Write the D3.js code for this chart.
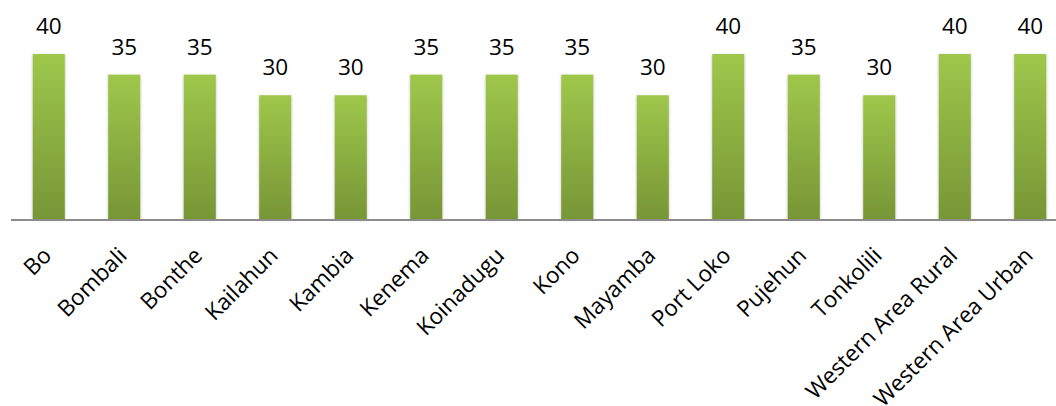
<!DOCTYPE html>
<html>
<head>
<meta charset="utf-8">
<script src="https://cdn.jsdelivr.net/npm/d3@7"></script>
<style>
  body { margin: 0; background: #fff; }
  text { font-family: "Open Sans", sans-serif; fill: #000; }
</style>
</head>
<body>
<div class="bar-chart"></div>
<script>
var districts = ["Bo", "Bombali", "Bonthe", "Kailahun", "Kambia", "Kenema", "Koinadugu",
                 "Kono", "Mayamba", "Port Loko", "Pujehun", "Tonkolili",
                 "Western Area Rural", "Western Area Urban"];
var values = [40, 35, 35, 30, 30, 35, 35, 35, 30, 40, 35, 30, 40, 40];

var w = 1056;
var h = 406;
var baseY = 219;

var svg = d3.select(".bar-chart")
            .append("svg")
            .attr("width", w)
            .attr("height", h);

var x = d3.scaleBand()
          .domain(districts)
          .range([11, 1068])
          .paddingInner(0.575)
          .paddingOuter(0.2875);

var y = d3.scaleLinear()
          .domain([0, 40])
          .range([baseY, 54]);

// green gradient like the original
var defs = svg.append("defs");
var grad = defs.append("linearGradient")
               .attr("id", "barGrad")
               .attr("x1", 0).attr("y1", 0)
               .attr("x2", 0).attr("y2", 1);
grad.append("stop").attr("offset", "0%").attr("stop-color", "#9fc74b");
grad.append("stop").attr("offset", "100%").attr("stop-color", "#779636");

var shadow = defs.append("filter")
                 .attr("id", "shadow")
                 .attr("x", "-30%").attr("y", "-10%")
                 .attr("width", "160%").attr("height", "120%");
shadow.append("feDropShadow")
      .attr("dx", 0).attr("dy", 1)
      .attr("stdDeviation", 1.5)
      .attr("flood-color", "#000")
      .attr("flood-opacity", 0.25);

// bars
svg.selectAll("rect.bar")
   .data(values)
   .enter()
   .append("rect")
   .attr("class", "bar")
   .attr("x", function(d, i) { return x(districts[i]); })
   .attr("y", function(d) { return y(d); })
   .attr("width", x.bandwidth())
   .attr("height", function(d) { return baseY - y(d); })
   .attr("fill", "url(#barGrad)")
   .attr("filter", "url(#shadow)");

// axis line
svg.append("line")
   .attr("x1", 11).attr("x2", w)
   .attr("y1", baseY + 1).attr("y2", baseY + 1)
   .attr("stroke", "#8c8c8c")
   .attr("stroke-width", 2);

// value labels
svg.selectAll("text.value")
   .data(values)
   .enter()
   .append("text")
   .attr("class", "value")
   .attr("x", function(d, i) { return x(districts[i]) + x.bandwidth() / 2; })
   .attr("y", function(d) { return y(d) - 20; })
   .attr("text-anchor", "middle")
   .style("font-size", "22.5px")
   .text(function(d) { return d; });

// category labels, rotated
svg.selectAll("text.cat")
   .data(districts)
   .enter()
   .append("text")
   .attr("class", "cat")
   .attr("text-anchor", "end")
   .attr("transform", function(d) {
     return "translate(" + (x(d) + x.bandwidth() / 2 + 4) + "," + (baseY + 38) + ") rotate(-45)";
   })
   .style("font-size", "22.5px")
   .text(function(d) { return d; });
</script>
</body>
</html>
